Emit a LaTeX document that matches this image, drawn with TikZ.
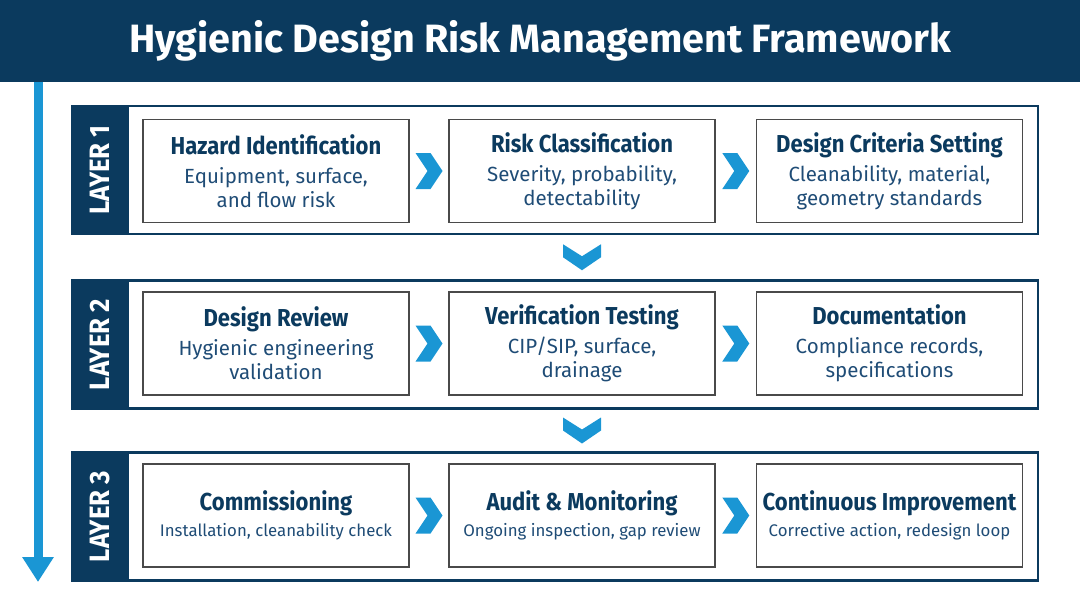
\documentclass[tikz,border=0pt]{standalone}
\usepackage{fontspec}
\setmainfont{Fira Sans}
\newfontfamily\condfont{Fira Sans}[FakeStretch=0.9]
\newfontfamily\tabfont{Fira Sans}[FakeStretch=0.92]
\usetikzlibrary{arrows.meta,calc}
\definecolor{navy}{HTML}{0B3A5E}
\definecolor{accent}{HTML}{1A96D4}
\definecolor{subtext}{HTML}{1F4C76}
\definecolor{boxline}{HTML}{4A4A4A}
\newcommand{\hd}[1]{{\condfont\bfseries\fontsize{24.5}{24}\selectfont\color{navy}#1}}

\tikzset{
  panel/.style={draw=navy, line width=2.5pt, minimum width=966pt, minimum height=128pt, inner sep=0pt},
  stepbox/.style={draw=boxline, line width=1.2pt, minimum width=266pt, minimum height=103pt,
    align=center, inner sep=0pt, text=subtext, font=\fontsize{20.5}{24}\selectfont},
  tablabel/.style={rotate=90, text=white, font=\tabfont\bfseries\fontsize{28}{28}\selectfont},
  chevr/.pic={\fill[accent] (-13.5,-18) -- (1.5,-18) -- (13.5,0) -- (1.5,18) -- (-13.5,18) -- (-1.5,0) -- cycle;},
  chevd/.pic={\fill[accent] (-19,-13) -- (0,-1) -- (19,-13) -- (19,0) -- (0,13) -- (-19,0) -- cycle;}
}

\begin{document}
\begin{tikzpicture}[x=1pt, y=-1pt]
  \useasboundingbox (0,0) rectangle (1080,603);

  % title band
  \node[fill=navy, anchor=north west, minimum width=1080pt, minimum height=82pt, inner sep=0pt,
    text=white, font=\bfseries\fontsize{39.5}{40}\selectfont] (band) at (0,0) {Hygienic Design Risk Management Framework};

  % flow arrow
  \coordinate (flowtop) at (38,82);
  \coordinate (flowend) at (38,582);
  \draw[accent, line width=9pt, -{Triangle[width=30pt, length=25pt]}] (flowtop) -- (flowend);

  % layer panels
  \node[panel] (L1) at (555,170) {};
  \node[panel] (L2) at (555,344.5) {};
  \node[panel] (L3) at (555,516.5) {};
  \fill[navy] (L1.north west) rectangle ($(L1.south west)+(58,0)$);
  \fill[navy] (L2.north west) rectangle ($(L2.south west)+(58,0)$);
  \fill[navy] (L3.north west) rectangle ($(L3.south west)+(58,0)$);
  \node[tablabel] (T1) at ($(L1.west)+(29,0)$) {LAYER 1};
  \node[tablabel] (T2) at ($(L2.west)+(29,0)$) {LAYER 2};
  \node[tablabel] (T3) at ($(L3.west)+(29,0)$) {LAYER 3};

  % layer 1
  \node[stepbox] (b11) at (276,171) {\hd{Hazard Identification}\\[5pt]Equipment, surface,\\and flow risk};
  \node[stepbox] (b12) at (582,171) {\hd{Risk Classification}\\[5pt]Severity, probability,\\detectability};
  \node[stepbox] (b13) at (889.5,171) {\hd{Design Criteria Setting}\\[5pt]Cleanability, material,\\geometry standards};

  % layer 2
  \node[stepbox] (b21) at (276,343.5) {\hd{Design Review}\\[5pt]Hygienic engineering\\validation};
  \node[stepbox] (b22) at (582,343.5) {\hd{Verification Testing}\\[5pt]CIP/SIP, surface,\\drainage};
  \node[stepbox] (b23) at (889.5,343.5) {\hd{Documentation}\\[5pt]Compliance records,\\specifications};

  % layer 3
  \node[stepbox, font=\fontsize{16.8}{24}\selectfont] (b31) at (276,515.5) {\hd{Commissioning}\\[2pt]Installation, cleanability check};
  \node[stepbox, font=\fontsize{16.8}{24}\selectfont] (b32) at (582,515.5) {\hd{Audit \& Monitoring}\\[2pt]Ongoing inspection, gap review};
  \node[stepbox, font=\fontsize{16.8}{24}\selectfont] (b33) at (889.5,515.5) {\hd{Continuous Improvement}\\[2pt]Corrective action, redesign loop};

  % chevrons
  \pic at ($(b11.east)!0.5!(b12.west)$) {chevr};
  \pic at ($(b12.east)!0.5!(b13.west)$) {chevr};
  \pic at ($(b21.east)!0.5!(b22.west)$) {chevr};
  \pic at ($(b22.east)!0.5!(b23.west)$) {chevr};
  \pic at ($(b31.east)!0.5!(b32.west)$) {chevr};
  \pic at ($(b32.east)!0.5!(b33.west)$) {chevr};
  \coordinate (m12) at ($(L1.south)!0.5!(L2.north)$);
  \coordinate (m23) at ($(L2.south)!0.5!(L3.north)$);
  \pic at (b12 |- m12) {chevd};
  \pic at (b22 |- m23) {chevd};
\end{tikzpicture}
\end{document}
